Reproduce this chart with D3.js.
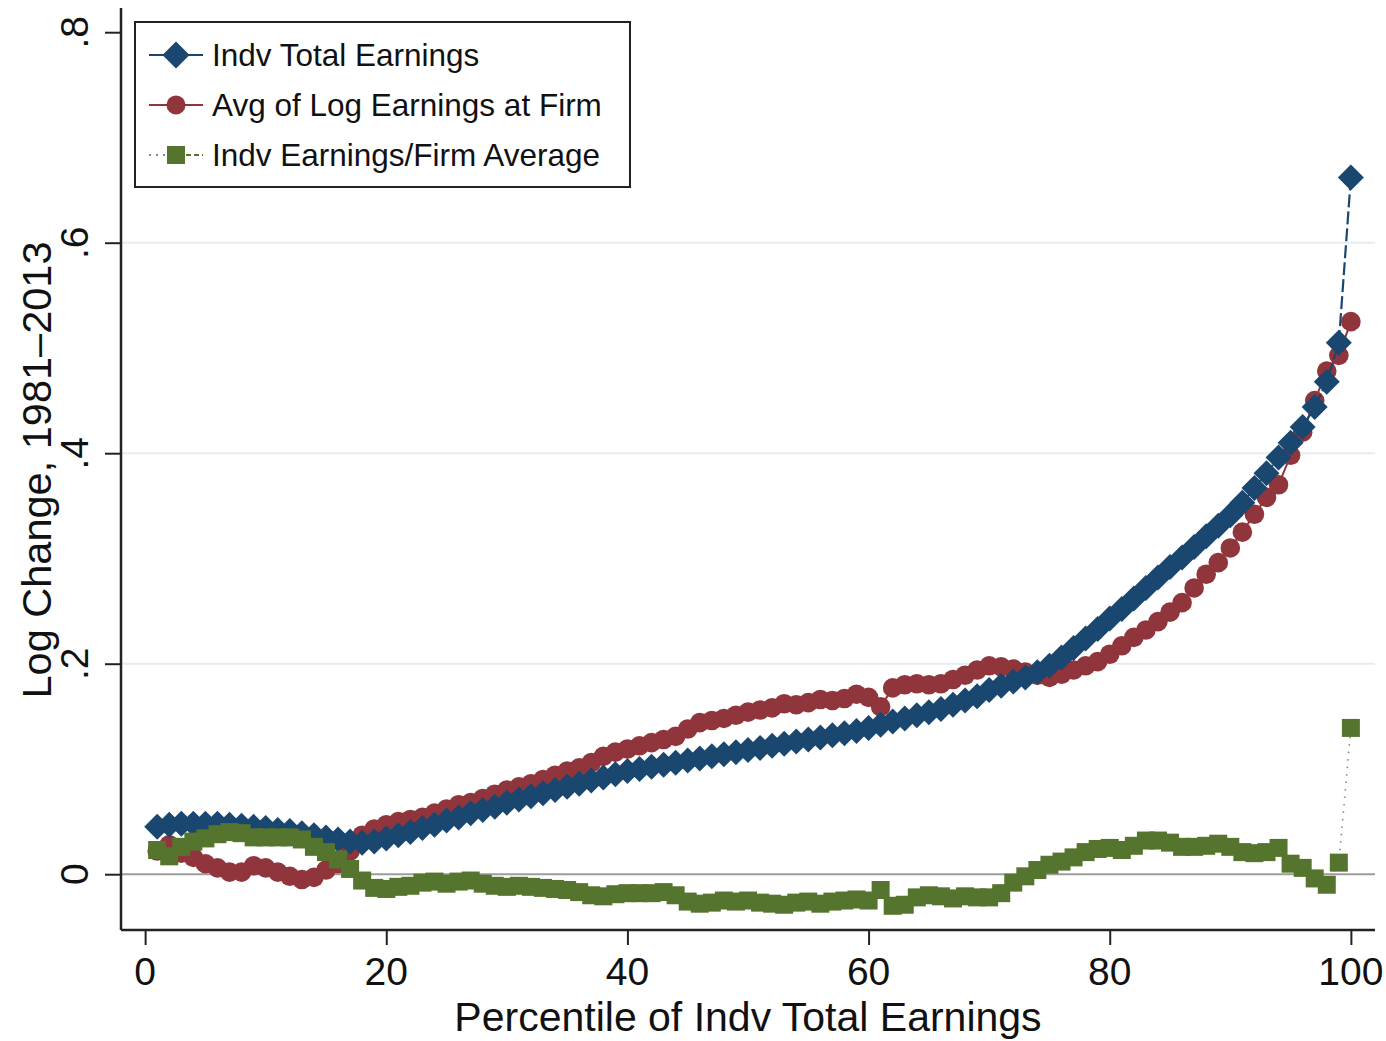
<!DOCTYPE html>
<html lang="en">
<head>
  <meta charset="UTF-8">
  <title>Log Change by Percentile</title>
  <script src="https://cdnjs.cloudflare.com/ajax/libs/d3/7.8.5/d3.min.js"></script>
  <style>
    body { margin: 0; background: #fff; }
    text { font-family: "Liberation Sans", Arial, Helvetica, sans-serif; fill: #111; }
  </style>
</head>
<body>
  <script>
    // percentiles 1..100
    const percentiles = d3.range(1, 101);

    const indvTotal = [
      0.045, 0.047, 0.048, 0.048, 0.048, 0.048, 0.047, 0.046, 0.045, 0.044,
      0.042, 0.041, 0.039, 0.037, 0.035, 0.033, 0.031, 0.030, 0.031, 0.034,
      0.037, 0.040, 0.044, 0.047, 0.051, 0.054, 0.058, 0.061, 0.064, 0.068,
      0.071, 0.074, 0.077, 0.080, 0.083, 0.086, 0.089, 0.092, 0.095, 0.098,
      0.100, 0.102, 0.104, 0.106, 0.108, 0.110, 0.112, 0.114, 0.116, 0.118,
      0.120, 0.122, 0.124, 0.126, 0.128, 0.130, 0.132, 0.134, 0.136, 0.139,
      0.142, 0.145, 0.148, 0.151, 0.154, 0.157, 0.161, 0.165, 0.169, 0.175,
      0.179, 0.183, 0.187, 0.192, 0.198, 0.206, 0.215, 0.224, 0.233, 0.243,
      0.252, 0.262, 0.272, 0.282, 0.292, 0.301, 0.311, 0.321, 0.331, 0.341,
      0.353, 0.367, 0.381, 0.396, 0.410, 0.425, 0.444, 0.468, 0.505, 0.662
    ];

    const firmAvgLog = [
      0.022, 0.028, 0.020, 0.016, 0.010, 0.006, 0.002, 0.002, 0.008, 0.006,
      0.002, -0.002, -0.005, -0.003, 0.004, 0.010, 0.022, 0.037, 0.043, 0.047,
      0.050, 0.052, 0.054, 0.058, 0.062, 0.066, 0.068, 0.072, 0.076, 0.080,
      0.083, 0.086, 0.090, 0.094, 0.098, 0.101, 0.106, 0.112, 0.116, 0.119,
      0.122, 0.125, 0.128, 0.131, 0.138, 0.144, 0.146, 0.148, 0.151, 0.154,
      0.156, 0.158, 0.162, 0.161, 0.163, 0.166, 0.165, 0.167, 0.171, 0.168,
      0.159, 0.177, 0.180, 0.181, 0.180, 0.181, 0.185, 0.189, 0.194, 0.198,
      0.197, 0.195, 0.192, 0.189, 0.187, 0.190, 0.194, 0.198, 0.202, 0.209,
      0.217, 0.225, 0.232, 0.240, 0.249, 0.258, 0.272, 0.285, 0.296, 0.310,
      0.325, 0.342, 0.358, 0.370, 0.398, 0.420, 0.450, 0.478, 0.493, 0.525
    ];

    const indvOverFirm = [
      0.023, 0.017, 0.026, 0.031, 0.034, 0.038, 0.040, 0.039, 0.035, 0.035,
      0.035, 0.035, 0.033, 0.026, 0.021, 0.014, 0.005, -0.006, -0.013, -0.014,
      -0.012, -0.011, -0.008, -0.007, -0.009, -0.007, -0.006, -0.009, -0.011, -0.012,
      -0.011, -0.012, -0.013, -0.014, -0.015, -0.017, -0.020, -0.021, -0.019, -0.018,
      -0.018, -0.018, -0.017, -0.020, -0.026, -0.028, -0.027, -0.025, -0.026, -0.025,
      -0.027, -0.028, -0.029, -0.027, -0.026, -0.028, -0.026, -0.025, -0.024, -0.025,
      -0.015, -0.030, -0.029, -0.022, -0.020, -0.021, -0.023, -0.021, -0.022, -0.022,
      -0.018, -0.008, -0.002, 0.004, 0.009, 0.012, 0.016, 0.021, 0.024, 0.025,
      0.023, 0.027, 0.032, 0.032, 0.030, 0.026, 0.026, 0.027, 0.029, 0.026,
      0.021, 0.020, 0.021, 0.025, 0.010, 0.006, -0.004, -0.010, 0.011, 0.139
    ];

    const xTicks = [0, 20, 40, 60, 80, 100];
    const yTicks = [0, 0.2, 0.4, 0.6, 0.8];
    const yTickLabels = ["0", ".2", ".4", ".6", ".8"];
    const gridValues = [0.2, 0.4, 0.6];

    const seriesNames = ["Indv Total Earnings", "Avg of Log Earnings at Firm", "Indv Earnings/Firm Average"];
    const colors = ["#1a476f", "#90353b", "#55752f"];

    const W = 1386, H = 1041;
    const svg = d3.select("body").append("svg")
      .attr("width", W).attr("height", H);

    // plot region edges
    const plotLeft = 121, plotRight = 1375, plotTop = 8, plotBottom = 930;

    const x = d3.scaleLinear().domain([-2, 102]).range([plotLeft, plotRight]);
    const y = d3.scaleLinear().domain([-0.053, 0.823]).range([plotBottom, plotTop]);

    // gridlines
    svg.append("g").selectAll("line")
      .data(gridValues).enter().append("line")
      .attr("x1", plotLeft).attr("x2", plotRight)
      .attr("y1", d => y(d)).attr("y2", d => y(d))
      .attr("stroke", "#e4edf0").attr("stroke-width", 2);

    // zero reference line
    svg.append("line")
      .attr("x1", plotLeft).attr("x2", plotRight)
      .attr("y1", y(0)).attr("y2", y(0))
      .attr("stroke", "#9c9c9c").attr("stroke-width", 2);

    // marker shapes
    function diamond(cx, cy, r) {
      return `M${cx},${cy - r}L${cx + r},${cy}L${cx},${cy + r}L${cx - r},${cy}Z`;
    }

    const line = d3.line().x(d => x(d[0])).y(d => y(d[1]));
    const pts = vals => percentiles.map((p, i) => [p, vals[i]]);

    // red series first (sits under blue)
    svg.append("path").datum(pts(firmAvgLog))
      .attr("d", line).attr("fill", "none")
      .attr("stroke", colors[1]).attr("stroke-width", 2);
    svg.append("g").selectAll("circle")
      .data(pts(firmAvgLog)).enter().append("circle")
      .attr("cx", d => x(d[0])).attr("cy", d => y(d[1]))
      .attr("r", 9.8).attr("fill", colors[1]);

    // blue series
    svg.append("path").datum(pts(indvTotal))
      .attr("d", line).attr("fill", "none")
      .attr("stroke", colors[0]).attr("stroke-width", 2.2)
      .attr("stroke-dasharray", "13,4");
    svg.append("g").selectAll("path")
      .data(pts(indvTotal)).enter().append("path")
      .attr("d", d => diamond(x(d[0]), y(d[1]), 13))
      .attr("fill", colors[0]);

    // green series
    svg.append("path").datum(pts(indvOverFirm))
      .attr("d", line).attr("fill", "none")
      .attr("stroke", "#7d8f6a").attr("stroke-width", 1.6)
      .attr("stroke-dasharray", "1.5,6");
    svg.append("g").selectAll("rect")
      .data(pts(indvOverFirm)).enter().append("rect")
      .attr("x", d => x(d[0]) - 9).attr("y", d => y(d[1]) - 9)
      .attr("width", 18).attr("height", 18)
      .attr("fill", colors[2]);

    // axes
    const yAxis = d3.axisLeft(y).tickValues(yTicks).tickSize(16).tickFormat("");
    svg.append("g").attr("transform", `translate(${plotLeft},0)`).call(yAxis)
      .call(g => g.select(".domain").attr("d", `M0,${plotTop}V${plotBottom}`).attr("stroke", "#222").attr("stroke-width", 2.5))
      .call(g => g.selectAll(".tick line").attr("stroke", "#222").attr("stroke-width", 2));

    const xAxis = d3.axisBottom(x).tickValues(xTicks).tickSize(15).tickFormat("");
    svg.append("g").attr("transform", `translate(0,${plotBottom})`).call(xAxis)
      .call(g => g.select(".domain").attr("d", `M${plotLeft},0H${plotRight}`).attr("stroke", "#222").attr("stroke-width", 2.5))
      .call(g => g.selectAll(".tick line").attr("stroke", "#222").attr("stroke-width", 2));

    // tick labels (Stata style: y labels rotated)
    svg.append("g").selectAll("text")
      .data(yTicks).enter().append("text")
      .attr("transform", d => `translate(88,${y(d)}) rotate(-90)`)
      .attr("text-anchor", "middle")
      .attr("font-size", 39)
      .text((d, i) => yTickLabels[i]);

    svg.append("g").selectAll("text")
      .data(xTicks).enter().append("text")
      .attr("x", d => x(d)).attr("y", 985)
      .attr("text-anchor", "middle")
      .attr("font-size", 39)
      .text(d => d);

    // axis titles
    svg.append("text")
      .attr("transform", `translate(51,470) rotate(-90)`)
      .attr("text-anchor", "middle")
      .attr("font-size", 41.5)
      .text("Log Change, 1981\u20132013");

    svg.append("text")
      .attr("x", 748).attr("y", 1031)
      .attr("text-anchor", "middle")
      .attr("font-size", 41)
      .text("Percentile of Indv Total Earnings");

    // legend
    const legend = svg.append("g");
    legend.append("rect")
      .attr("x", 135).attr("y", 22).attr("width", 495).attr("height", 165)
      .attr("fill", "#fff").attr("stroke", "#222").attr("stroke-width", 2);

    const rowY = [55, 105, 155];
    const sx = 176;
    seriesNames.forEach((name, i) => {
      const cy = rowY[i];
      if (i < 2) {
        legend.append("line")
          .attr("x1", 149).attr("x2", 203).attr("y1", cy).attr("y2", cy)
          .attr("stroke", colors[i]).attr("stroke-width", 2);
      } else {
        legend.append("line")
          .attr("x1", 149).attr("x2", 166).attr("y1", cy).attr("y2", cy)
          .attr("stroke", "#7d8f6a").attr("stroke-width", 2)
          .attr("stroke-dasharray", "2,5");
        legend.append("line")
          .attr("x1", 186).attr("x2", 203).attr("y1", cy).attr("y2", cy)
          .attr("stroke", colors[2]).attr("stroke-width", 2)
          .attr("stroke-dasharray", "5,3");
      }
      if (i === 0) {
        legend.append("path").attr("d", diamond(sx, cy, 13.5)).attr("fill", colors[0]);
      } else if (i === 1) {
        legend.append("circle").attr("cx", sx).attr("cy", cy).attr("r", 9.5).attr("fill", colors[1]);
      } else {
        legend.append("rect").attr("x", sx - 9).attr("y", cy - 9)
          .attr("width", 18).attr("height", 18).attr("fill", colors[2]);
      }
      legend.append("text")
        .attr("x", 212).attr("y", cy + 11)
        .attr("font-size", 31.5)
        .text(name);
    });
  </script>
</body>
</html>
